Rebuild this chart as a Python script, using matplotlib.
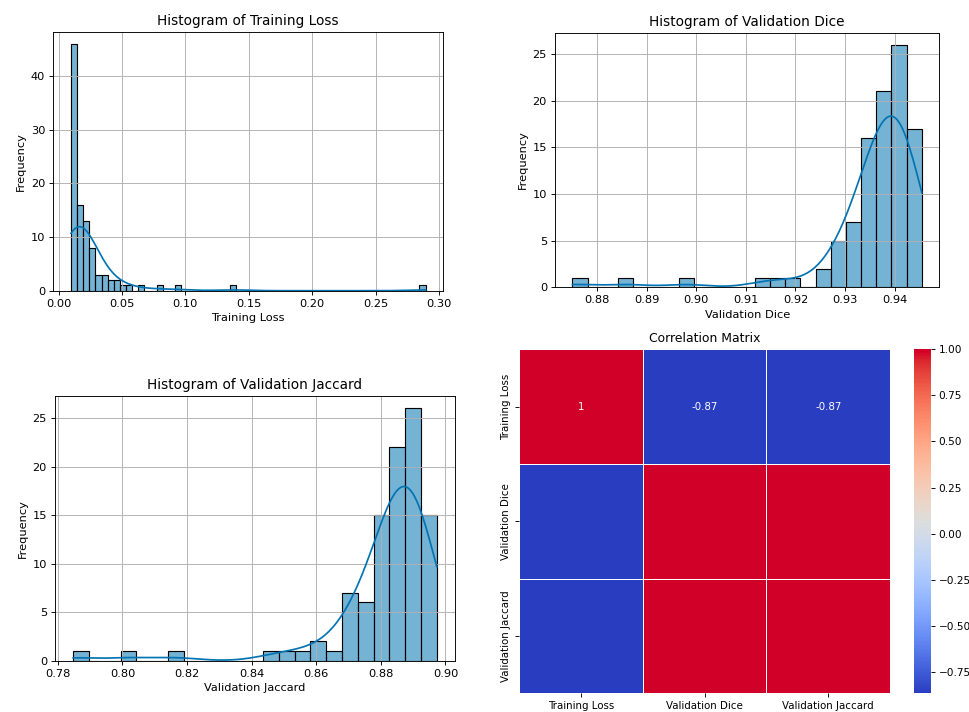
import numpy as np
import pandas as pd
import seaborn as sns
from matplotlib import pyplot as plt
from matplotlib.colors import ListedColormap, rgb_to_hsv, hsv_to_rgb

# histogram bin counts (equal-width bins between min and max)
loss_min, loss_max = 0.0098, 0.2895
loss_counts = [46, 16, 13, 8, 3, 3, 2, 2, 1, 1,
               0, 1, 0, 0, 1, 0, 0, 1, 0, 0,
               0, 0, 0, 0, 0, 0, 1, 0, 0, 0,
               0, 0, 0, 0, 0, 0, 0, 0, 0, 0,
               0, 0, 0, 0, 0, 0, 0, 0, 0, 0,
               0, 0, 0, 0, 0, 0, 0, 1]

dice_min, dice_max = 0.87504, 0.9455
dice_counts = [1, 0, 0, 1, 0, 0, 0, 1, 0, 0, 0, 0,
               1, 1, 1, 0, 2, 5, 7, 16, 21, 26, 17]

jacc_min, jacc_max = 0.78474, 0.89732
jacc_counts = [1, 0, 0, 1, 0, 0, 1, 0, 0, 0, 0, 0,
               1, 1, 1, 2, 1, 7, 6, 15, 22, 26, 15]

metric_names = ['Training Loss', 'Validation Dice', 'Validation Jaccard']
corr_values = [[1.0, -0.866, -0.866],
               [-0.866, 1.0, 0.998],
               [-0.866, 0.998, 1.0]]

hist_color = '#0173b2'


def rebuild_samples(vmin, vmax, counts):
    # one value per epoch, placed in the bin it was counted in
    edges = np.linspace(vmin, vmax, len(counts) + 1)
    centers = (edges[:-1] + edges[1:]) / 2
    samples = np.repeat(centers, counts)
    samples[0] = vmin
    samples[-1] = vmax
    return samples, edges


def add_hist(ax, vmin, vmax, counts, name):
    samples, edges = rebuild_samples(vmin, vmax, counts)
    sns.histplot(samples, bins=edges, kde=True, ax=ax, color=hist_color,
                 alpha=0.54, edgecolor='black', linewidth=1)
    ax.set_title('Histogram of {0}'.format(name), fontsize=12)
    ax.set_xlabel(name, fontsize=10)
    ax.set_ylabel('Frequency', fontsize=10)
    ax.grid(True)


def vivid_coolwarm():
    # coolwarm, a little more saturated at both ends (the reference looks punchier)
    x = np.linspace(0, 1, 256)
    hsv = rgb_to_hsv(plt.get_cmap('coolwarm')(x)[:, :3])
    warm = np.clip((x - 0.5) / 0.5, 0, 1) ** 2
    cool = np.clip((0.5 - x) / 0.5, 0, 1) ** 2
    hsv[:, 2] = np.clip(hsv[:, 2] * (1 + 0.16 * warm), 0, 1)
    hsv[:, 1] = np.clip(hsv[:, 1] * (1 + 0.05 * warm + 0.13 * cool), 0, 1)
    return ListedColormap(hsv_to_rgb(hsv))


W, H = 969, 712
fig = plt.figure(figsize=(W / 82, H / 82), dpi=82)


def px_axes(left, top, right, bottom):
    return fig.add_axes([left / W, 1 - bottom / H, (right - left) / W, (bottom - top) / H])


ax1 = px_axes(53.3, 31.7, 443.3, 290.7)
ax2 = px_axes(555, 32.7, 939.3, 287.3)
ax3 = px_axes(55, 395.7, 455, 660.7)
ax4 = px_axes(519.3, 349.3, 890, 693.3)
cax = px_axes(914, 349.3, 930.7, 693.3)

add_hist(ax1, loss_min, loss_max, loss_counts, 'Training Loss')
add_hist(ax2, dice_min, dice_max, dice_counts, 'Validation Dice')
add_hist(ax3, jacc_min, jacc_max, jacc_counts, 'Validation Jaccard')

corr = pd.DataFrame(corr_values, index=metric_names, columns=metric_names)
sns.heatmap(corr, ax=ax4, cbar_ax=cax, cmap=vivid_coolwarm(), linewidths=0.5, linecolor='white')
# only the first row carries its numbers, as in the original
for j, v in enumerate(corr.iloc[0]):
    ax4.text(j + 0.5, 0.5, '{0:.2g}'.format(v), ha='center', va='center',
             color='white', fontsize=9)
ax4.set_title('Correlation Matrix', fontsize=10.9)
ax4.set_xticklabels(metric_names, fontsize=9)
ax4.set_yticklabels(metric_names, fontsize=9, rotation=90, va='center')
cax.tick_params(labelsize=9.2)

fig.savefig('out.png', dpi=82)
